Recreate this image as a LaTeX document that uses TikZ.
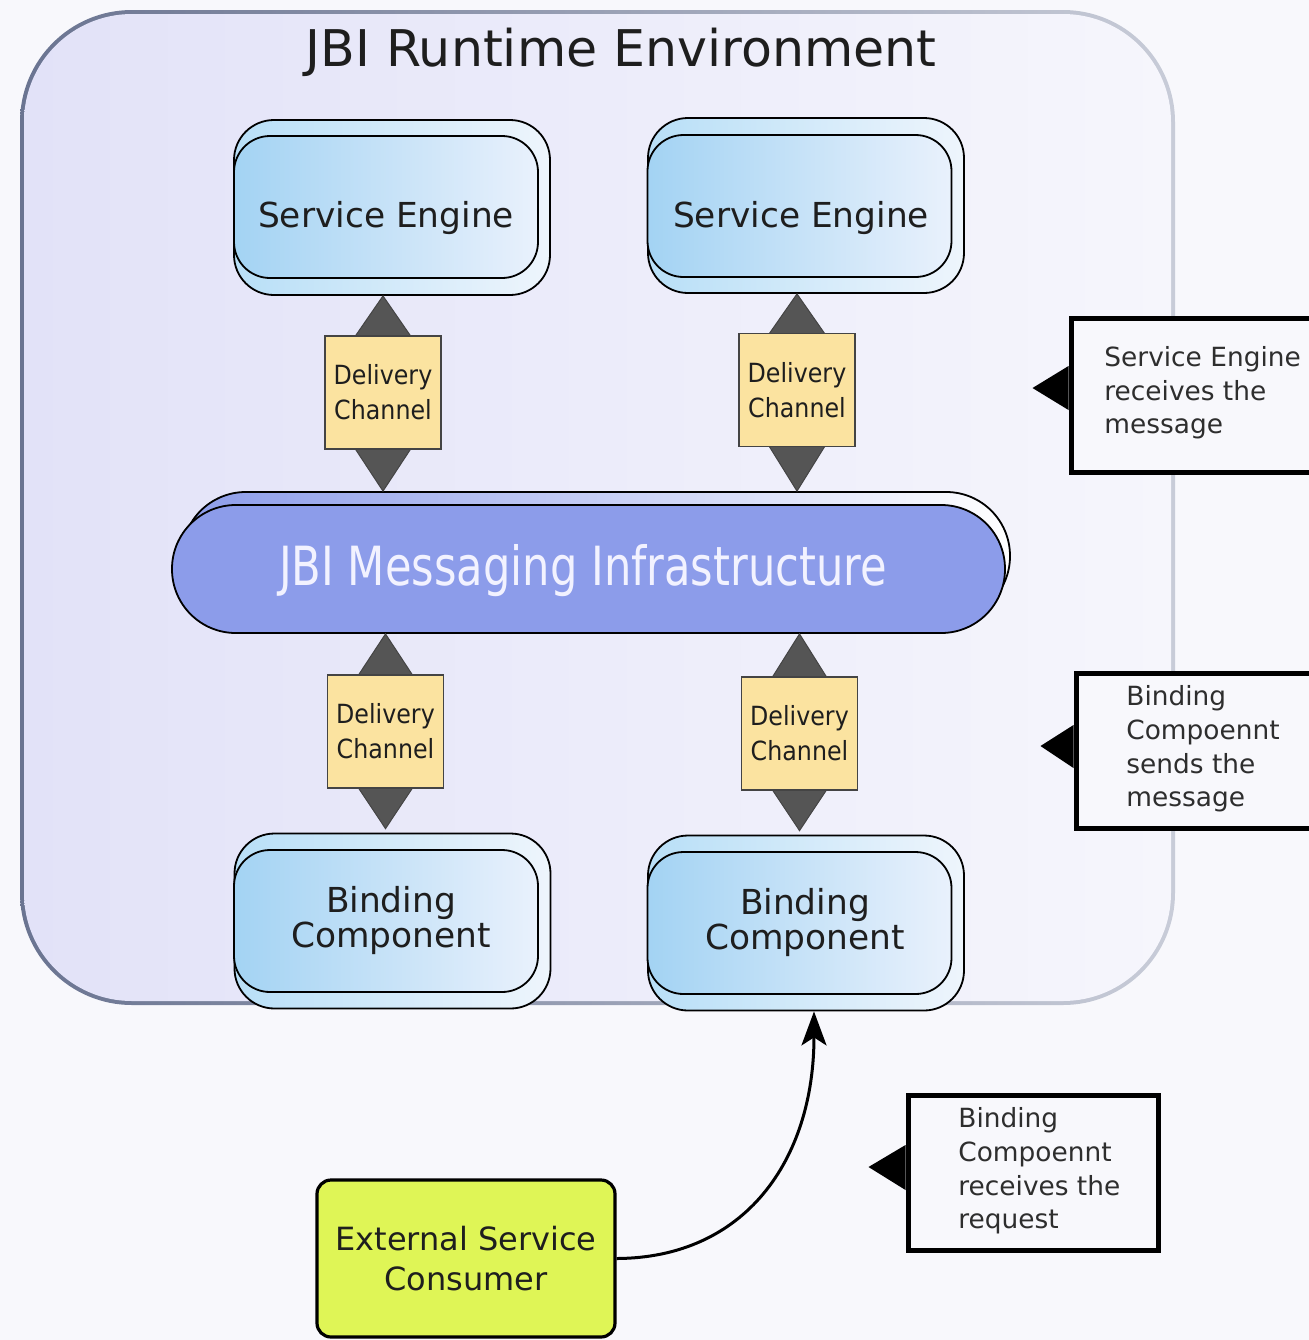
\documentclass[tikz,border=0pt]{standalone}
\usepackage{fontspec}
\setmainfont{DejaVu Sans}
\newfontfamily\condfont[FakeStretch=0.8]{DejaVu Sans}
\newfontfamily\dcfont[FakeStretch=0.9]{DejaVu Sans}
\usetikzlibrary{arrows.meta,calc}
\definecolor{bgcol}{HTML}{F8F8FC}
\definecolor{strokeL}{HTML}{6A7491}
\definecolor{strokeR}{HTML}{C8CCD8}
\definecolor{fillL}{HTML}{E2E2F8}
\definecolor{fillR}{HTML}{F6F6FC}
\definecolor{backL}{HTML}{B8DFF7}
\definecolor{backR}{HTML}{EEF5FC}
\definecolor{frontL}{HTML}{A3D3F3}
\definecolor{frontR}{HTML}{E9F1FC}
\definecolor{dcfill}{HTML}{FBE3A0}
\definecolor{dcborder}{HTML}{444444}
\definecolor{trigray}{HTML}{555555}
\definecolor{msgfill}{HTML}{8C9CEA}
\definecolor{msgtext}{HTML}{F2F2FF}
\definecolor{escfill}{HTML}{DFF556}
\definecolor{txt}{HTML}{1E1E1E}
\definecolor{calltxt}{HTML}{2E2E2E}
\begin{document}
\begin{tikzpicture}[x=0.5pt,y=-0.5pt,
  boxback/.style={rectangle, rounded corners=20pt, draw=black, line width=0.9pt,
    left color=backL, right color=backR, minimum width=158pt, minimum height=87.5pt, inner sep=0pt},
  boxfront/.style={rectangle, rounded corners=18pt, draw=black, line width=0.9pt,
    left color=frontL, right color=frontR, minimum width=152pt, minimum height=71pt, inner sep=0pt},
  boxtext/.style={font=\fontsize{17.2pt}{17.5pt}\selectfont, text=txt, align=center, inner sep=0pt},
  dcbox/.style={rectangle, draw=dcborder, line width=0.8pt, fill=dcfill, minimum width=58pt,
    minimum height=56.5pt, inner sep=0pt, align=center, font=\dcfont\fontsize{13.2pt}{17.5pt}\selectfont, text=txt},
  dctri/.style={draw=dcborder, fill=trigray, line width=0.5pt, line join=miter},
  callout/.style={rectangle, draw=black, line width=2.5pt, fill=bgcol, inner sep=0pt},
  callouttext/.style={font=\fontsize{13.2pt}{16.8pt}\selectfont, text=calltxt, align=left, inner sep=0pt, anchor=west},
  pointer/.style={fill=black},
  ]
% background and bounding box
\fill[bgcol] (0,0) rectangle (1309,1340);
\useasboundingbox (0,0) rectangle (1309,1340);

% container
\path[left color=strokeL, right color=strokeR, rounded corners=56pt] (20,10) rectangle (1175,1005);
\path[left color=fillL, right color=fillR, rounded corners=54pt] (24,14) rectangle (1171,1001);
\node[font=\fontsize{25.3pt}{30pt}\selectfont, text=txt, inner sep=0pt] (title) at (621,52) {JBI Runtime Environment};

% service engines
\node[boxback] (se1b) at (392,207.5) {};
\node[boxfront] (se1f) at (386,207) {};
\node[boxtext] (se1t) at (386,218) {Service Engine};
\node[boxback] (se2b) at (806,205.5) {};
\node[boxfront] (se2f) at (799.5,206) {};
\node[boxtext] (se2t) at (801,218) {Service Engine};

% messaging infrastructure
\node[rectangle, rounded corners=31.9pt, draw=black, line width=0.9pt, left color=msgfill, right color=white,
  minimum width=414pt, minimum height=64pt, inner sep=0pt] (msgb) at (596,556) {};
\node[rectangle, rounded corners=31.9pt, draw=black, line width=0.9pt, fill=msgfill,
  minimum width=416.5pt, minimum height=64pt, inner sep=0pt] (msgf) at (588.5,569) {};
\node[font=\condfont\fontsize{27pt}{30pt}\selectfont, text=msgtext, inner sep=0pt] (msgt) at (583,571) {JBI Messaging Infrastructure};

% binding components
\node[boxback] (bc1b) at (392.5,921) {};
\node[boxfront] (bc1f) at (386,921) {};
\node[boxtext] (bc1t) at (391,920) {Binding\\Component};
\node[boxback] (bc2b) at (806,923) {};
\node[boxfront] (bc2f) at (799.5,923) {};
\node[boxtext] (bc2t) at (805,922) {Binding\\Component};

% delivery channels: arrowheads first, boxes on top
\coordinate (dc1c) at (383,392.5);
\coordinate (dc2c) at (797,390);
\coordinate (dc3c) at (385.5,731.5);
\coordinate (dc4c) at (799.5,733.5);

\fill[dctri] ($(dc1c)+(-28,-56)$) -- (dc1c |- se1b.south) -- ($(dc1c)+(28,-56)$) -- cycle;
\fill[dctri] ($(dc1c)+(-28,56)$) -- (dc1c |- msgb.north) -- ($(dc1c)+(28,56)$) -- cycle;
\fill[dctri] ($(dc2c)+(-28,-56)$) -- (dc2c |- se2b.south) -- ($(dc2c)+(28,-56)$) -- cycle;
\fill[dctri] ($(dc2c)+(-28,56)$) -- (dc2c |- msgb.north) -- ($(dc2c)+(28,56)$) -- cycle;
\fill[dctri] ($(dc3c)+(-28,-55)$) -- (dc3c |- msgf.south) -- ($(dc3c)+(28,-55)$) -- cycle;
\fill[dctri] ($(dc3c)+(-28,55)$) -- ($(dc3c |- bc1b.north)+(0,-4)$) -- ($(dc3c)+(28,55)$) -- cycle;
\fill[dctri] ($(dc4c)+(-28,-55)$) -- (dc4c |- msgf.south) -- ($(dc4c)+(28,-55)$) -- cycle;
\fill[dctri] ($(dc4c)+(-28,55)$) -- ($(dc4c |- bc2b.north)+(0,-4)$) -- ($(dc4c)+(28,55)$) -- cycle;

\node[dcbox] (dc1) at (dc1c) {Delivery\\Channel};
\node[dcbox] (dc2) at (dc2c) {Delivery\\Channel};
\node[dcbox] (dc3) at (dc3c) {Delivery\\Channel};
\node[dcbox] (dc4) at (dc4c) {Delivery\\Channel};

% external service consumer
\node[rectangle, rounded corners=7pt, draw=black, line width=1.6pt, fill=escfill,
  minimum width=149pt, minimum height=78.5pt, inner sep=0pt, align=center,
  font=\fontsize{16pt}{20pt}\selectfont, text=txt] (esc) at (466,1258.5) {External Service\\Consumer};
\draw[line width=1.5pt, -{Stealth[length=17pt,width=12.5pt,inset=4pt]}]
  (esc.east) .. controls (745,1258) and (814,1160) .. ([xshift=4pt]bc2b.south);

% callouts
\node[callout, minimum width=122pt, minimum height=77pt] (co1) at (1193,395) {};
\fill[pointer] ($(co1.west)+(0,-29)$) -- ($(co1.west)+(-36,-7)$) -- ($(co1.west)+(0,15)$) -- cycle;
\node[callouttext] (co1t) at (1104,393) {Service Engine\\receives the\\message};

\node[callout, minimum width=119.5pt, minimum height=77.5pt] (co2) at (1195.5,750.5) {};
\fill[pointer] ($(co2.west)+(0,-25.5)$) -- ($(co2.west)+(-33,-4.5)$) -- ($(co2.west)+(0,17.5)$) -- cycle;
\node[callouttext] (co2t) at (1126,749) {Binding\\Compoennt\\sends the\\message};

\node[callout, minimum width=125pt, minimum height=77.5pt] (co3) at (1033,1172.5) {};
\fill[pointer] ($(co3.west)+(0,-27.5)$) -- ($(co3.west)+(-37,-5.5)$) -- ($(co3.west)+(0,17.5)$) -- cycle;
\node[callouttext] (co3t) at (958,1171) {Binding\\Compoennt\\receives the\\request};
\end{tikzpicture}
\end{document}
